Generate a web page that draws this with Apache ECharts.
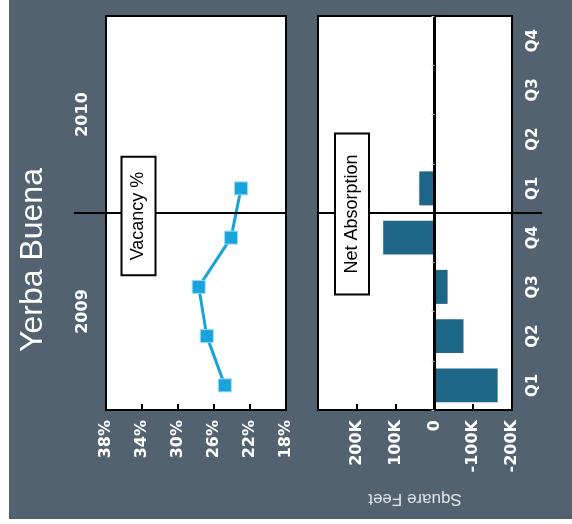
<!DOCTYPE html>
<html>
<head>
<meta charset="utf-8">
<script src="https://cdn.jsdelivr.net/npm/echarts@6/dist/echarts.min.js"></script>
<style>
  html, body { margin: 0; padding: 0; background: #ffffff; }
  #wrap { position: relative; width: 572px; height: 524px; }
  #bg { position: absolute; left: 9px; top: 0; right: 0; bottom: 5px; background: #536271; }
  #chart { position: absolute; left: 0; top: 0; width: 572px; height: 524px; }
</style>
</head>
<body>
<div id="wrap">
  <div id="bg"></div>
  <div id="chart"></div>
</div>
<script>
// Quarterly office market figures, Yerba Buena
const title = 'Yerba Buena';
const years = ['2009', '2010'];
const quarters = ['Q1', 'Q2', 'Q3', 'Q4', 'Q1', 'Q2', 'Q3', 'Q4'];
const vacancy = [24.8, 26.8, 27.7, 24.1, 23.0, null, null, null];          // percent
const absorption = [-163000, -75000, -34000, 132000, 39000, null, null, null]; // square feet
const vacancyTicks = [18, 22, 26, 30, 34, 38];

const LINE = '#17a3db';
const BAR = '#1d6688';
const labelFont = { color: '#ffffff', fontFamily: 'DejaVu Sans', fontWeight: 'bold', fontSize: 16 };

const chart = echarts.init(document.getElementById('chart'), null, { renderer: 'canvas' });

const G0 = { left: 106, top: 16, width: 180, height: 394 };
const G1 = { left: 318, top: 16, width: 194, height: 394 };

function kLabel(v) {
  if (v === 300000) return '';
  if (v === 0) return '0';
  return (v / 1000) + 'K';
}

chart.setOption({
  backgroundColor: 'transparent',
  animation: false,
  grid: [
    Object.assign({ show: true, backgroundColor: '#ffffff', borderColor: '#000000', borderWidth: 2, containLabel: false }, G0),
    Object.assign({ show: true, backgroundColor: '#ffffff', borderColor: '#000000', borderWidth: 2, containLabel: false }, G1)
  ],
  xAxis: [
    {
      gridIndex: 0, type: 'value', min: 18, max: 38, inverse: true,
      splitLine: { show: false },
      axisLine: { show: true, lineStyle: { color: '#000', width: 2 } },
      axisTick: { show: true, inside: true, length: 6, customValues: vacancyTicks, lineStyle: { color: '#000', width: 2 } },
      axisLabel: Object.assign({ customValues: vacancyTicks, rotate: 90, margin: 10, formatter: '{value}%' }, labelFont)
    },
    {
      gridIndex: 1, type: 'value', min: -200000, max: 300000, interval: 100000, inverse: true,
      splitLine: { show: false },
      axisLine: { show: true, lineStyle: { color: '#000', width: 2 } },
      axisTick: { show: true, inside: true, length: 6, lineStyle: { color: '#000', width: 2 } },
      axisLabel: Object.assign({ rotate: 90, margin: 10, formatter: kLabel }, labelFont),
      name: 'Square Feet', nameLocation: 'middle', nameGap: 80, nameRotate: 180,
      nameTextStyle: { color: '#e4e4e4', fontFamily: 'Liberation Sans', fontSize: 17 }
    }
  ],
  yAxis: [
    {
      gridIndex: 0, type: 'category', data: quarters,
      axisLine: { show: false }, axisTick: { show: false }, axisLabel: { show: false }, splitLine: { show: false }
    },
    {
      gridIndex: 0, type: 'category', data: years, position: 'left',
      axisLine: { show: false }, axisTick: { show: false }, splitLine: { show: false },
      axisLabel: Object.assign({ rotate: 90, margin: 15 }, labelFont)
    },
    {
      gridIndex: 1, type: 'category', data: quarters, position: 'right',
      axisLine: { show: false, onZero: false }, axisTick: { show: false }, splitLine: { show: false },
      axisLabel: Object.assign({ rotate: 90, margin: 14 }, labelFont, { fontSize: 15 })
    },
    {
      gridIndex: 1, type: 'category', data: quarters, position: 'left', z: 5,
      axisLine: { show: true, onZero: true, lineStyle: { color: '#000', width: 3 } },
      axisTick: { show: true, length: 3, lineStyle: { color: '#c8c8c8', width: 1 } },
      axisLabel: { show: false }, splitLine: { show: false }
    }
  ],
  series: [
    {
      name: 'Vacancy %', type: 'line', xAxisIndex: 0, yAxisIndex: 0, data: vacancy,
      symbol: 'rect', symbolSize: 13, showSymbol: true,
      lineStyle: { color: LINE, width: 3 },
      itemStyle: { color: LINE, borderColor: '#9fdaf2', borderWidth: 1 }
    },
    {
      name: 'Net Absorption', type: 'bar', xAxisIndex: 1, yAxisIndex: 3, data: absorption,
      barWidth: '69%', itemStyle: { color: BAR }
    }
  ]
});

// Year divider and rotated labels, placed from the category scale
const yTop = chart.convertToPixel({ yAxisIndex: 0 }, 4);
const yBot = chart.convertToPixel({ yAxisIndex: 0 }, 3);
const yDiv = (yTop + yBot) / 2;

function boxText(text, cx, cy, size, pad) {
  return {
    type: 'text', x: cx, y: cy, rotation: Math.PI / 2, z: 20,
    style: {
      text: text, fill: '#000', font: size + 'px "Liberation Sans", Arial, sans-serif',
      align: 'center', verticalAlign: 'middle',
      backgroundColor: '#ffffff', borderColor: '#000000', borderWidth: 2, padding: pad
    }
  };
}

chart.setOption({
  graphic: [
    {
      type: 'text', x: 33, y: 260, rotation: Math.PI / 2,
      style: { text: title, fill: '#ffffff', font: '32px "Liberation Sans", Arial, sans-serif', align: 'center', verticalAlign: 'middle' }
    },
    {
      type: 'line', z: 10,
      shape: { x1: G0.left - 32, y1: yDiv, x2: G0.left + G0.width, y2: yDiv },
      style: { stroke: '#000', lineWidth: 2 }
    },
    {
      type: 'line', z: 10,
      shape: { x1: G1.left, y1: yDiv, x2: G1.left + G1.width + 30, y2: yDiv },
      style: { stroke: '#000', lineWidth: 2 }
    },
    boxText('Vacancy %', 138.5, yDiv + 3, 18, [7, 14]),
    boxText('Net Absorption', 352, yDiv + 1, 18, [7, 20])
  ]
});
</script>
</body>
</html>
